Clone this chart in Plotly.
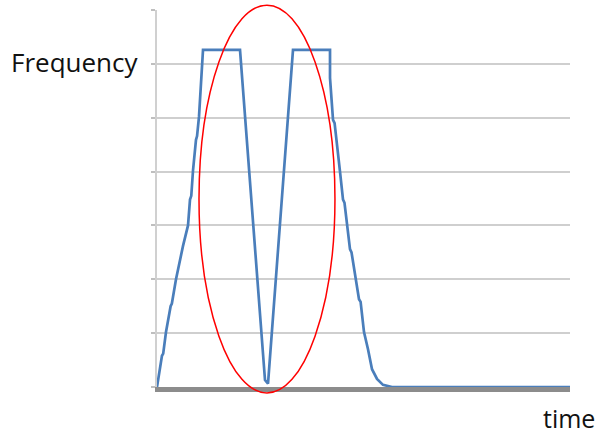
import plotly.graph_objects as go

# time (arbitrary units 0..100) and frequency (grid units 0..7)
time = [0, 1.2, 1.5, 2.18, 3.3, 3.6, 4.60, 6.05, 6.3, 7.51, 7.99, 8.3, 8.72, 9.44, 9.7,
        10.17, 10.41, 10.90, 11.14,
        20.10, 26.15, 26.88, 32.93, 41.89, 41.89, 42.62, 43.0, 44.31, 45.04, 45.4, 46.00,
        46.73, 47.1, 48.18, 48.91, 49.3, 50.12, 51.09, 52.06, 53.27, 54.72, 56.90, 100]
freq = [0, 0.58, 0.62, 1.02, 1.50, 1.55, 2.00, 2.56, 2.62, 3.00, 3.48, 3.55, 4.02, 4.59, 4.66,
        5.02, 5.33, 5.74, 6.26,
        6.26, 0.13, 0.06, 6.26, 6.26, 5.74, 4.96, 4.90, 4.00, 3.48, 3.42, 3.00,
        2.56, 2.50, 2.00, 1.63, 1.58, 1.02, 0.70, 0.33, 0.15, 0.04, 0, 0]

X_RANGE = [0, 100]
Y_RANGE = [0, 7]

# highlight ellipse (data units): centre and radii
ell_cx, ell_cy, ell_rx, ell_ry = 26.63, 3.49, 16.46, 3.60


def px(v):
    return (v - X_RANGE[0]) / (X_RANGE[1] - X_RANGE[0])


def py(v):
    return (v - Y_RANGE[0]) / (Y_RANGE[1] - Y_RANGE[0])


fig = go.Figure()
fig.add_trace(go.Scatter(x=time, y=freq, mode="lines",
                         line=dict(color="#4a7ebb", width=2.7),
                         hoverinfo="skip", showlegend=False))

fig.add_shape(type="circle", xref="paper", yref="paper",
              x0=px(ell_cx - ell_rx), x1=px(ell_cx + ell_rx),
              y0=py(ell_cy - ell_ry), y1=py(ell_cy + ell_ry),
              line=dict(color="#ff0000", width=1.5))

fig.add_annotation(text="Frequency", xref="paper", yref="paper",
                   x=-0.358, y=0.862, xanchor="left", yanchor="middle",
                   showarrow=False, font=dict(family="Open Sans", size=26, color="#111111"))
fig.add_annotation(text="time", xref="paper", yref="paper",
                   x=0.930, y=-0.082, xanchor="left", yanchor="middle",
                   showarrow=False, font=dict(family="Open Sans", size=25, color="#111111"))

fig.update_layout(
    width=598, height=434,
    margin=dict(l=157, r=28, t=10, b=47),
    paper_bgcolor="white", plot_bgcolor="white",
    xaxis=dict(range=X_RANGE, showgrid=False, zeroline=False, showticklabels=False,
               showline=True, linecolor="#8c8c8c", linewidth=5, ticks=""),
    yaxis=dict(range=Y_RANGE, dtick=1, showgrid=True, gridcolor="#cfcfcf", gridwidth=1.5,
               zeroline=False, showticklabels=False, showline=True, linecolor="#d0d0d0",
               linewidth=2, ticks="outside", ticklen=4, tickcolor="#bfbfbf", tickwidth=1.5),
)

fig.write_html("out.html", config={"displayModeBar": False},
               post_script="document.body.style.margin='0';"
                           "document.documentElement.style.overflow='hidden';")
